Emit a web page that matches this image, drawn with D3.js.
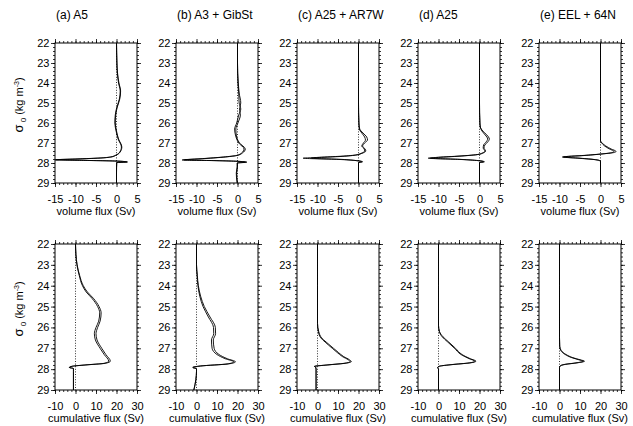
<!DOCTYPE html>
<html>
<head>
<meta charset="utf-8">
<script src="https://cdn.jsdelivr.net/npm/d3@7"></script>
<style>
  body { margin: 0; background: #fff; }
  text { font-family: "Liberation Sans", Arial, sans-serif; fill: #000; }
</style>
</head>
<body>
<div id="chart"></div>
<script>
// Data

const titles = ["(a) A5", "(b) A3 + GibSt", "(c) A25 + AR7W", "(d) A25", "(e) EEL + 64N"]
const sigmaTicks = [22, 23, 24, 25, 26, 27, 28, 29]
const volTicks = [-15, -10, -5, 0, 5]
const cumTicks = [-10, 0, 10, 20, 30]

// volume flux (Sv) against sigma, two estimates per section
const volSigmaA = [22, 23, 23.5, 24, 24.4, 24.8, 25.2, 25.6, 26.0, 26.4, 26.8, 27.2, 27.45, 27.62, 27.7, 27.76, 27.8, 27.84, 27.87, 27.9, 27.95, 27.98, 28.5, 29]
const volA = [
  [0, 0.1, 0.2, 0.5, 0.9, 0.7, 0.1, -0.3, -0.4, -0.1, 0.4, 1.2, 0.8, -0.3, -1.5, -5, -10, -15, -8, -0.5, 2.7, 0, 0, 0],
  [0, 0.1, 0.25, 0.6, 1.0, 0.8, 0.2, -0.2, -0.3, 0, 0.5, 1.3, 0.9, -0.2, -1.3, -4.6, -9.6, -14.8, -7.5, -0.4, 2.5, 0.1, 0, 0]
]

const volSigmaB = [22, 23, 24, 24.5, 25, 25.3, 25.6, 26.0, 26.3, 26.6, 27.0, 27.3, 27.5, 27.62, 27.7, 27.78, 27.85, 27.88, 27.91, 27.96, 28.0, 28.2, 28.5, 29]
const volB = [
  [0, 0, 0.2, 0.4, 0.8, 0.5, 0.7, 0.1, -0.4, -0.3, 0.5, 1.9, 1.2, 0, -3, -8, -13.5, -6, -0.5, 2.3, 0, 0, -0.2, 0],
  [0, 0, 0.1, 0.3, 0.4, 0.8, 0.3, -0.2, -0.7, -0.5, 0.3, 1.6, 1.0, -0.2, -3.4, -8.5, -13, -5.5, -0.6, 2.0, -0.1, -0.1, -0.3, -0.1]
]

const volSigmaC = [22, 24, 25, 26, 26.3, 26.5, 26.7, 26.85, 27.0, 27.15, 27.3, 27.4, 27.52, 27.6, 27.67, 27.72, 27.76, 27.82, 27.88, 27.94, 27.98, 29]
const volC = [
  [0, 0, 0, 0.1, 0.3, 1.1, 2.0, 2.2, 1.5, 1.0, 1.6, 1.8, 0.8, -0.5, -4, -9, -13.5, -5, -0.5, 1.0, 0, 0],
  [0, 0, 0, 0.1, 0.2, 0.8, 1.5, 1.7, 1.2, 0.8, 1.4, 1.5, 0.6, -0.7, -5, -10, -11.5, -4, -0.6, 0.8, 0, 0]
]

const volSigmaD = [22, 24, 25, 26, 26.2, 26.4, 26.6, 26.8, 26.95, 27.1, 27.25, 27.4, 27.5, 27.58, 27.66, 27.72, 27.76, 27.82, 27.88, 27.94, 27.98, 29]
const volD = [
  [0, 0, 0, 0.1, 0.2, 0.8, 1.8, 2.4, 2.0, 1.3, 1.1, 1.5, 0.9, -0.5, -5, -10, -12.5, -5, -0.3, 1.2, 0, 0],
  [0, 0, 0, 0.1, 0.2, 0.6, 1.4, 2.0, 1.6, 1.0, 0.9, 1.3, 0.7, -0.6, -5.5, -10.5, -12, -4.5, -0.4, 1.0, 0, 0]
]

const volSigmaE = [22, 24, 26, 26.9, 27.0, 27.15, 27.3, 27.42, 27.48, 27.55, 27.62, 27.7, 27.76, 27.83, 27.9, 27.95, 29]
const volE = [
  [0, 0, 0, 0, 0.4, 1.3, 2.6, 3.8, 3.2, 0.3, -3.5, -9.3, -5.5, -1.5, 0, 0, 0],
  [0, 0, 0, 0, 0.3, 1.0, 2.2, 3.3, 2.8, 0.1, -4, -9, -5, -1.3, -0.1, 0, 0]
]

// cumulative flux (Sv) against sigma
const cumSigmaA = [22, 22.5, 23, 23.5, 24, 24.3, 24.6, 25, 25.3, 25.7, 26, 26.3, 26.6, 27, 27.3, 27.62, 27.72, 27.8, 27.86, 27.92, 27.97, 28.1, 29]
const cumA = [
  [0, 0.2, 0.8, 2.0, 3.8, 5.8, 8.7, 11.5, 12.5, 12.0, 10.8, 10.0, 10.5, 12.8, 14.8, 17.0, 14.5, 5, -1.5, -3, -1, -1, -1],
  [0, 0.2, 0.7, 1.8, 3.4, 5.2, 8.0, 10.8, 11.8, 11.3, 10.0, 9.2, 9.7, 12.0, 14.0, 16.2, 14.0, 4.5, -1.5, -3, -1, -1, -1]
]

const cumSigmaB = [22, 23, 23.5, 24, 24.5, 25, 25.5, 26, 26.3, 26.6, 27, 27.3, 27.5, 27.65, 27.75, 27.85, 27.92, 27.98, 28.1, 28.5, 29]
const cumB = [
  [0, 0, 0.4, 0.9, 2.0, 3.8, 6.6, 9.2, 9.3, 8.2, 8.6, 11.0, 15.0, 19.0, 15.5, 2.0, -1.8, 0, 0, -0.3, -1.3],
  [0, 0, 0.3, 0.7, 1.6, 3.2, 5.8, 8.3, 8.4, 7.3, 7.6, 10.0, 14.0, 18.2, 15.0, 1.8, -1.8, 0, 0, -0.3, -1.3]
]

const cumSigmaC = [22, 24, 25.8, 26.2, 26.5, 26.7, 27.0, 27.2, 27.4, 27.55, 27.64, 27.72, 27.8, 27.87, 27.92, 28, 29]
const cumC = [
  [0, 0, 0, 0.6, 2.0, 4.2, 7.8, 10.2, 12.8, 15.6, 16.5, 13.5, 5.0, -1.5, -0.8, -0.7, -0.7],
  [0, 0, 0, 0.4, 1.6, 3.7, 7.2, 9.6, 12.2, 15.0, 15.9, 13.0, 4.5, -1.5, -0.8, -0.7, -0.7]
]

const cumSigmaD = [22, 24, 25.9, 26.2, 26.45, 26.7, 27.0, 27.3, 27.5, 27.62, 27.7, 27.78, 27.86, 27.92, 28, 29]
const cumD = [
  [0, 0, 0, 0.5, 2.2, 5.0, 8.3, 11.5, 15.5, 18.3, 15.5, 7.0, 0.5, -0.4, 0, 0],
  [0, 0, 0, 0.4, 1.8, 4.5, 7.8, 11.0, 15.0, 17.7, 15.0, 6.5, 0.5, -0.4, 0, 0]
]

const cumSigmaE = [22, 24, 26.5, 26.9, 27.1, 27.3, 27.45, 27.55, 27.62, 27.7, 27.77, 27.85, 27.92, 29]
const cumE = [
  [0, 0, 0, 0.1, 0.8, 3.2, 6.5, 10.0, 12.2, 8.5, 3.0, 0.3, 0, 0],
  [0, 0, 0, 0.1, 0.6, 2.8, 6.0, 9.4, 11.6, 8.0, 2.6, 0.3, 0, 0]
]

// Layout

const width = 633
const height = 426
const panelW = 82
const firstLeft = 55
const panelStep = 121
const tickFont = "11px"

const rows = [
  {
    top: 43, h: 140, domain: [-15, 5], ticks: volTicks, minorStep: 1,
    label: "volume flux (Sv)",
    sigma: [volSigmaA, volSigmaB, volSigmaC, volSigmaD, volSigmaE],
    lines: [volA, volB, volC, volD, volE],
    showTitles: true
  },
  {
    top: 244, h: 146, domain: [-10, 30], ticks: cumTicks, minorStep: 2,
    label: "cumulative flux (Sv)",
    sigma: [cumSigmaA, cumSigmaB, cumSigmaC, cumSigmaD, cumSigmaE],
    lines: [cumA, cumB, cumC, cumD, cumE],
    showTitles: false
  }
]

const svg = d3.select("#chart").append("svg")
  .attr("width", width)
  .attr("height", height)

const sigmaMinor = d3.range(22, 29.001, 0.2)

rows.forEach((row, r) => {
  const xMinor = d3.range(row.domain[0], row.domain[1] + 0.001, row.minorStep)

  row.sigma.forEach((sig, i) => {
    const left = firstLeft + i * panelStep
    const g = svg.append("g").attr("transform", `translate(${left}, ${row.top})`)

    const x = d3.scaleLinear().domain(row.domain).range([0, panelW])
    const y = d3.scaleLinear().domain([22, 29]).range([0, row.h])

    // zero reference
    g.append("line")
      .attr("x1", x(0)).attr("x2", x(0))
      .attr("y1", 0).attr("y2", row.h)
      .attr("stroke", "#000")
      .attr("stroke-width", 0.8)
      .attr("stroke-dasharray", "1,1.6")

    const line = d3.line()
      .x(d => x(d[1]))
      .y(d => y(d[0]))
      .curve(d3.curveMonotoneY)

    row.lines[i].forEach(vals => {
      g.append("path")
        .datum(d3.zip(sig, vals))
        .attr("fill", "none")
        .attr("stroke", "#000")
        .attr("stroke-width", 0.9)
        .attr("d", line)
    })

    // frame
    g.append("rect")
      .attr("x", 0).attr("y", 0)
      .attr("width", panelW).attr("height", row.h)
      .attr("fill", "none")
      .attr("stroke", "#000")
      .attr("stroke-width", 1)

    const noLabel = () => ""
    const addAxis = (axis, transform) => {
      const a = g.append("g")
        .attr("transform", transform)
        .style("font-size", tickFont)
        .call(axis)
      a.select(".domain").remove()
      a.selectAll(".tick line").attr("stroke-width", 0.8)
      a.selectAll(".tick text").style("font-family", '"Liberation Sans", Arial, sans-serif')
      return a
    }

    // sigma axes, left with labels and right without
    addAxis(d3.axisLeft(y).tickValues(sigmaMinor).tickSize(2).tickFormat(noLabel), "translate(0,0)")
    addAxis(d3.axisLeft(y).tickValues(sigmaTicks).tickSize(4).tickPadding(1.5).tickFormat(d => String(d)), "translate(0,0)")
    addAxis(d3.axisRight(y).tickValues(sigmaMinor).tickSize(2).tickFormat(noLabel), `translate(${panelW},0)`)
    addAxis(d3.axisRight(y).tickValues(sigmaTicks).tickSize(4).tickFormat(noLabel), `translate(${panelW},0)`)

    // flux axes, bottom with labels and top without
    addAxis(d3.axisBottom(x).tickValues(xMinor).tickSize(2).tickFormat(noLabel), `translate(0,${row.h})`)
    addAxis(d3.axisBottom(x).tickValues(row.ticks).tickSize(4).tickPadding(8).tickFormat(d => String(d)), `translate(0,${row.h})`)
    addAxis(d3.axisTop(x).tickValues(xMinor).tickSize(2).tickFormat(noLabel), "translate(0,0)")
    addAxis(d3.axisTop(x).tickValues(row.ticks).tickSize(4).tickFormat(noLabel), "translate(0,0)")

    // axis title under the panel
    g.append("text")
      .attr("x", panelW / 2)
      .attr("y", row.h + 32)
      .attr("text-anchor", "middle")
      .style("font-size", tickFont)
      .text(row.label)

    if (row.showTitles) {
      g.append("text")
        .attr("x", 1)
        .attr("y", -24)
        .style("font-size", "12px")
        .text(titles[i])
    }
  })

  // sigma axis title on the left
  const midY = row.top + row.h / 2 - 8
  const yt = svg.append("text")
    .attr("transform", `translate(23, ${midY}) rotate(-90)`)
    .attr("text-anchor", "middle")
    .style("font-size", tickFont)
  yt.append("tspan").style("font-size", "13px").text("σ")
  yt.append("tspan").attr("dy", 3).style("font-size", "8px").text(" 0")
  yt.append("tspan").attr("dy", -3).text("  (kg m")
  yt.append("tspan").attr("dy", -4).style("font-size", "7px").text("-3")
  yt.append("tspan").attr("dy", 4).text(")")
})
</script>
</body>
</html>
